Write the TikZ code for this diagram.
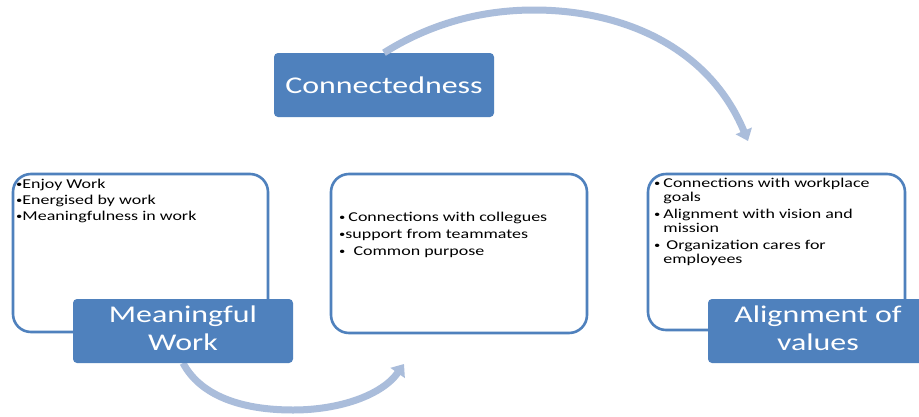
\documentclass[tikz,border=0pt]{standalone}
\usepackage{fontspec}
\setmainfont{Carlito}
\usepackage{graphicx}
\usetikzlibrary{arrows.meta}
\definecolor{accent}{HTML}{4F81BD}
\definecolor{arccol}{HTML}{AABDDB}
\newcommand{\hs}[1]{\scalebox{1.33}[1]{#1}}
\newcommand{\bul}{\raisebox{0.15ex}{\scalebox{0.7}{\textbullet}}}
\begin{document}
\begin{tikzpicture}[x=1pt,y=-1pt,
  panel/.style={draw=accent, line width=2.6pt, fill=white, rounded corners=18pt, inner sep=0pt},
  head/.style={fill=accent, rounded corners=4pt, inner sep=0pt, text=white,
    font=\fontsize{24}{28}\selectfont, minimum width=220pt, minimum height=64pt},
  body/.style={inner sep=0pt, anchor=north west, text=black, font=\fontsize{13.5}{16}\selectfont},
  arc/.style={draw=arccol, line width=7pt, -{Triangle[width=17pt,length=11pt]}}]
\useasboundingbox (0,0) rectangle (919,416);
\fill[white] (0,0) rectangle (919,416);

% header used as arc start
\node[head] (tc) at (384,85) {\hs{Connectedness}};

% arcs
\coordinate (a1e) at (748,141);
\coordinate (a2e) at (404,364);
\draw[arc] (tc.north) .. controls (420,30) and (470,10) .. (534,10)
  .. controls (620,10) and (708,45) .. (a1e);
\coordinate (h1s) at (183,363);
\draw[arc] (h1s) .. controls (200,395) and (240,410) .. (293,410)
  .. controls (340,410) and (382,395) .. (a2e);

% panels
\node[panel, minimum width=255pt, minimum height=158pt] (p1) at (140.5,253) {};
\node[panel, minimum width=256pt, minimum height=159pt] (p2) at (459,253.5) {};
\node[panel, minimum width=257pt, minimum height=156pt] (p3) at (776.5,252) {};

% panel texts
\node[body] (t1) at (16,177) {\hs{\begin{tabular}{@{}l@{}}
\bul Enjoy Work\\
\bul Energised by work\\
\bul Meaningfulness in work
\end{tabular}}};
\node[body] (t2) at (339,210) {\hs{\begin{tabular}{@{}l@{}}
\bul\,Connections with collegues\\[1pt]
\bul support from teammates\\[1pt]
\bul\ \ Common purpose
\end{tabular}}};
\node[body, font=\fontsize{13.5}{14.5}\selectfont] (t3) at (654,177) {\hs{\begin{tabular}{@{}l@{}l@{}}
\bul\,&Connections with workplace\\
&goals\\[2pt]
\bul\,&Alignment with vision and\\
&mission\\[2pt]
\bul\,&\,Organization cares for\\
&employees
\end{tabular}}};

% headers on top
\node[head] (h1) at (183,331) {\hs{\begin{tabular}{@{}c@{}}Meaningful\\Work\end{tabular}}};
\node[head] (h3) at (818,331) {\hs{\begin{tabular}{@{}c@{}}Alignment of\\values\end{tabular}}};
\end{tikzpicture}
\end{document}
